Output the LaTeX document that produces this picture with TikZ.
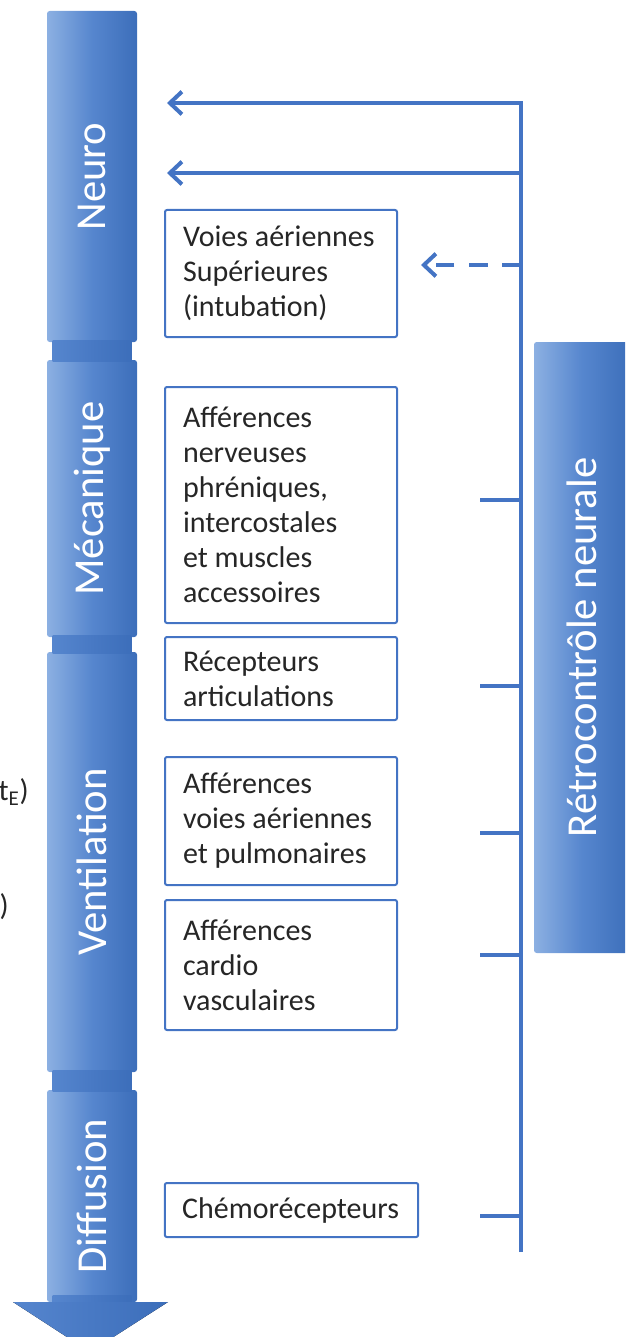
\documentclass[tikz,border=0pt]{standalone}
\usepackage{fontspec}
\setmainfont{Carlito}
\usepackage{tikz}
\usetikzlibrary{arrows.meta}

\definecolor{barlight}{RGB}{140,176,226}
\definecolor{barmid}{RGB}{86,134,206}
\definecolor{bardark}{RGB}{60,110,186}
\definecolor{jointblue}{RGB}{72,121,196}
\definecolor{lineblue}{RGB}{68,116,196}
\definecolor{boxtext}{RGB}{38,38,38}

\tikzset{
  phase/.style={rectangle,rounded corners=2pt,minimum width=67.5pt,inner sep=0pt,
    left color=barlight,right color=bardark,middle color=barmid,
    text=white,font=\fontsize{32}{38}\selectfont},
  joint/.style={left color=barmid,right color=bardark,middle color=jointblue},
  afferent/.style={rectangle,draw=lineblue,line width=1.5pt,fill=white,rounded corners=1.5pt,
    text width=147pt,inner xsep=13.5pt,inner ysep=0pt,align=flush left,text=boxtext,
    font=\fontsize{22.5}{26.25}\selectfont},
  fb/.style={draw=lineblue,line width=3pt},
}

\begin{document}
\begin{tikzpicture}[x=0.75pt,y=-0.75pt,>={Straight Barb[length=9pt,width=17pt]}]
  \useasboundingbox (0,0) rectangle (625,1337);
  \clip (0,0) rectangle (625,1337);

  % left: the phases, top to bottom
  \node[phase,minimum height=248.25pt] (neuro) at (92,176.5) {\rotatebox{90}{Neuro}};
  \node[phase,minimum height=207.75pt] (meca) at (92,498.5) {\rotatebox{90}{Mécanique}};
  \node[phase,minimum height=315pt] (venti) at (92,862) {\rotatebox{90}{Ventilation}};
  \node[phase,minimum height=159pt] (diffu) at (92,1196) {\rotatebox{90}{Diffusion}};
  \fill[joint] ([xshift=4.5pt,yshift=1pt]neuro.south west) rectangle ([xshift=-4.5pt,yshift=-1pt]meca.north east);
  \fill[joint] ([xshift=4.5pt,yshift=1pt]meca.south west) rectangle ([xshift=-4.5pt,yshift=-1pt]venti.north east);
  \fill[joint] ([xshift=4.5pt,yshift=1pt]venti.south west) rectangle ([xshift=-4.5pt,yshift=-1pt]diffu.north east);
  \fill[joint] ([xshift=4.5pt,yshift=5pt]diffu.south west) rectangle ([xshift=-4.5pt]diffu.south east);
  \fill[joint] (13,1302) -- (168,1302) -- (90,1352) -- cycle;

  % cut-off text on the left edge
  \node[anchor=east,inner sep=0pt,text=boxtext,font=\fontsize{22.5}{26.25}\selectfont] (tE) at (29,792) {t\textsubscript{E})};
  \node[anchor=east,inner sep=0pt,text=boxtext,font=\fontsize{22.5}{26.25}\selectfont] (paren) at (9,907) {)};

  % middle: afferent inputs
  \node[afferent,minimum height=95.25pt] (vas) at (281,273.5) {Voies aériennes\\Supérieures\\(intubation)};
  \node[afferent,minimum height=177pt] (nerf) at (281,505) {Afférences\\nerveuses\\phréniques,\\intercostales\\et muscles\\accessoires};
  \node[afferent,minimum height=62.25pt] (artic) at (281,678.5) {Récepteurs\\articulations};
  \node[afferent,minimum height=96pt] (pulmo) at (281,821) {Afférences\\voies aériennes\\et pulmonaires};
  \node[afferent,minimum height=97.5pt] (cardio) at (281,965) {Afférences\\cardio\\vasculaires};
  \node[afferent,minimum height=40.5pt,text width=164pt,inner xsep=13pt] (chemo) at (291.5,1210) {Chémorécepteurs};

  % right: neural feedback
  \node[phase,minimum width=72pt,minimum height=458.25pt] (retro) at (582,647.5) {\rotatebox{90}{Rétrocontrôle neurale}};
  \coordinate (fbtop) at (521,103);
  \coordinate (fbbot) at (521,1252);
  \coordinate (n1) at (167,103);
  \coordinate (f2) at (521,173);
  \coordinate (n2) at (167,173);
  \coordinate (f3) at (521,265);
  \coordinate (n3) at (421,265);
  \draw[fb,->] (fbbot) -- (fbtop) -- (n1);
  \draw[fb,->] (f2) -- (n2);
  \draw[fb,->,dash pattern=on 14pt off 11pt] (f3) -- (n3);
  \foreach \y [count=\i] in {500,686,833,955,1216} {
    \coordinate (t\i) at (480,\y);
    \draw[fb] (521,\y) -- (t\i);
  }
\end{tikzpicture}
\end{document}
